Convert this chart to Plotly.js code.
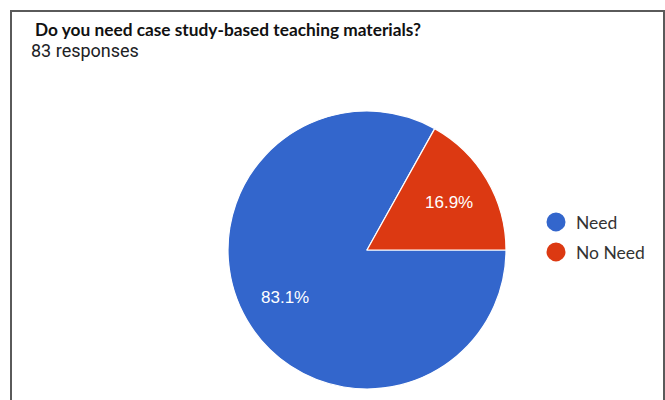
<!DOCTYPE html>
<html>
<head>
<meta charset="utf-8">
<script src="https://cdn.plot.ly/plotly-3.0.1.min.js"></script>
<style>
  html, body { margin: 0; padding: 0; background: #ffffff; }
  #chart { position: absolute; left: 0; top: 0; width: 665px; height: 400px; }
  #frame { position: absolute; left: 10px; top: 10px; width: 651px; height: 400px;
           border: 2px solid #5a5a5a; border-bottom: none; pointer-events: none; }
</style>
</head>
<body>
<div id="chart"></div>
<div id="frame"></div>
<script>
const chartTitle = "Do you need case study-based teaching materials?";
const subtitle = "83 responses";
const categories = ["Need", "No Need"];
const shares = [83.1, 16.9];
const colors = ["#3366cc", "#dc3912"];

const W = 665, H = 400;
const cx = 367, cy = 250, R = 139;
const startDeg = 90; // first slice starts at 3 o'clock, clockwise

const pie = {
  type: "pie",
  labels: categories,
  values: shares,
  sort: false,
  direction: "clockwise",
  rotation: startDeg,
  marker: { colors: colors, line: { color: "#ffffff", width: 1.2 } },
  textinfo: "none",
  showlegend: false,
  hoverinfo: "none",
  domain: { x: [(cx - R) / W, (cx + R) / W], y: [(H - cy - R) / H, (H - cy + R) / H] }
};

// percentage labels placed along each slice's mid-angle (derived from the data)
const total = shares.reduce((a, b) => a + b, 0);
let acc = 0;
const labelAnns = shares.map(v => {
  const mid = (startDeg + (acc + v / 2) / total * 360) * Math.PI / 180;
  acc += v;
  const r = 0.68 * R;
  const px = cx + r * Math.sin(mid);
  const py = cy - r * Math.cos(mid);
  return {
    text: v.toFixed(1) + "%", xref: "paper", yref: "paper",
    x: px / W, y: 1 - py / H, xanchor: "center", yanchor: "middle", showarrow: false,
    font: { family: "Arial, Liberation Sans, sans-serif", size: 17, color: "#ffffff" }
  };
});

const legendTraces = categories.map((c, i) => ({
  type: "scatter",
  mode: "markers",
  x: [null], y: [null],
  name: c,
  legend: i === 0 ? "legend" : "legend2",
  marker: { color: colors[i], size: 16, symbol: "circle", line: { color: colors[i], width: 3 } },
  hoverinfo: "none"
}));

const legendBase = {
  xanchor: "left", yanchor: "middle",
  font: { family: "Lato, Carlito, sans-serif", size: 17.5, color: "#333333" },
  bgcolor: "rgba(0,0,0,0)", borderwidth: 0, itemclick: false, itemdoubleclick: false
};

const layout = {
  width: W, height: H,
  margin: { l: 0, r: 0, t: 0, b: 0 },
  paper_bgcolor: "#ffffff", plot_bgcolor: "#ffffff",
  xaxis: { visible: false }, yaxis: { visible: false },
  showlegend: true,
  legend: Object.assign({}, legendBase, { x: 536 / W, y: 1 - 222 / H }),
  legend2: Object.assign({}, legendBase, { x: 536 / W, y: 1 - 252 / H }),
  annotations: [
    { text: "<b>" + chartTitle + "</b>", xref: "paper", yref: "paper", x: 33 / W, y: 1 - 29 / H,
      xanchor: "left", yanchor: "middle", showarrow: false,
      font: { family: "Lato, Carlito, sans-serif", size: 17.3, color: "#111111" } },
    { text: subtitle, xref: "paper", yref: "paper", x: 29 / W, y: 1 - 51 / H,
      xanchor: "left", yanchor: "middle", showarrow: false,
      font: { family: "Roboto, sans-serif", size: 18, color: "#202124" } }
  ].concat(labelAnns)
};

Plotly.newPlot("chart", [pie].concat(legendTraces), layout, { displayModeBar: false, staticPlot: true });
</script>
</body>
</html>
